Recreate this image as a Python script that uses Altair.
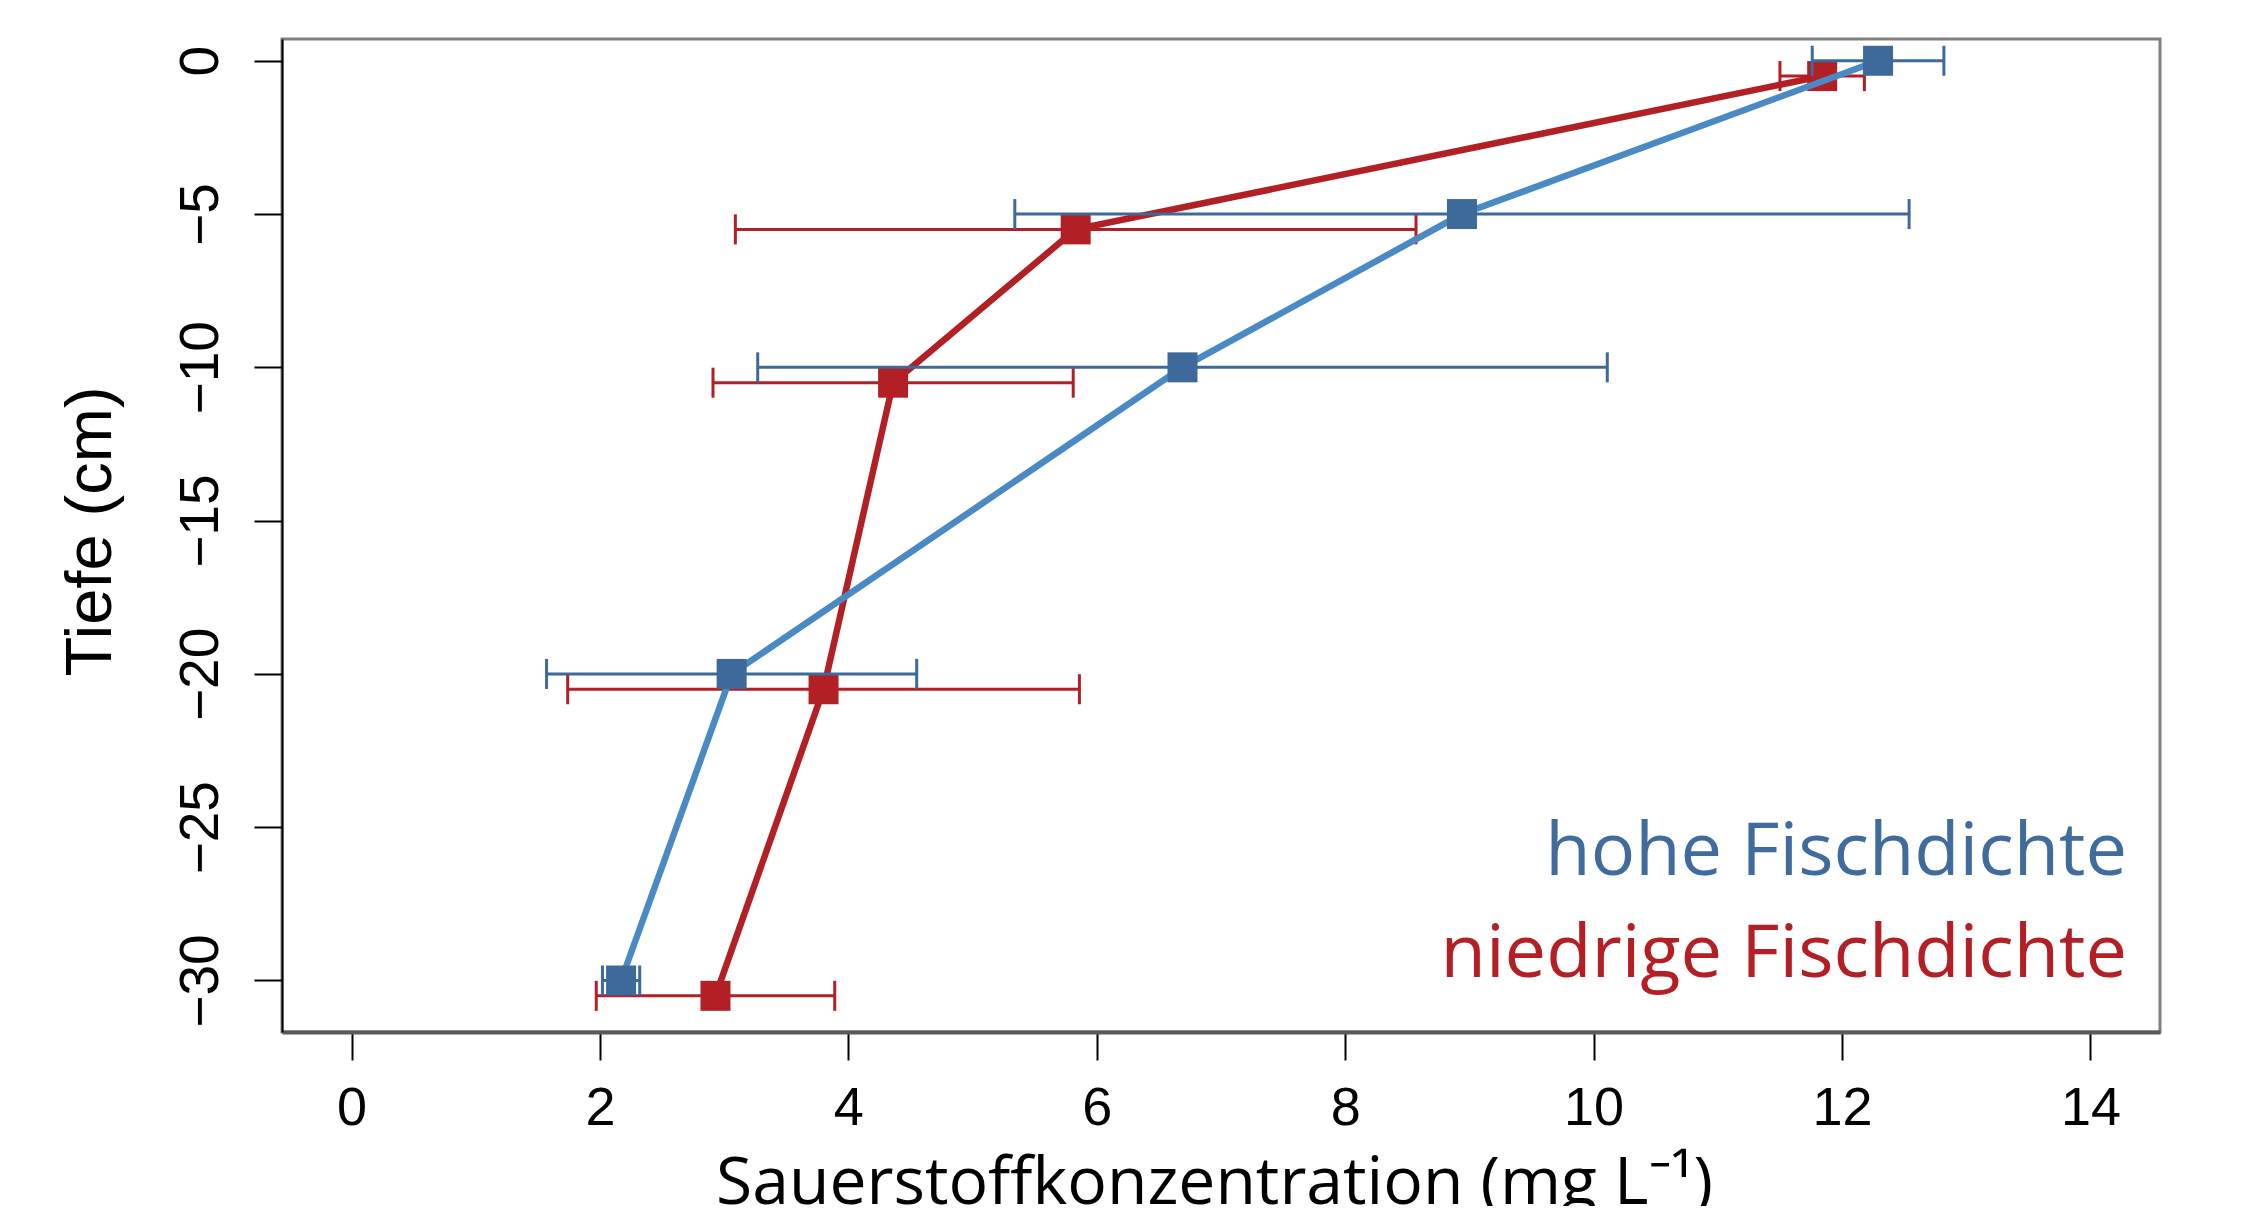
import altair as alt
import pandas as pd

groups = ["hohe Fischdichte", "niedrige Fischdichte"]

depth_hoch = [0, -5, -10, -20, -30]
oxy_hoch = [12.29, 8.94, 6.69, 3.06, 2.17]
sd_hoch = [0.53, 3.60, 3.42, 1.49, 0.15]

depth_niedrig = [-0.5, -5.5, -10.5, -20.5, -30.5]
oxy_niedrig = [11.84, 5.83, 4.36, 3.80, 2.93]
sd_niedrig = [0.34, 2.74, 1.45, 2.06, 0.96]

x_ticks = [0, 2, 4, 6, 8, 10, 12, 14]
y_ticks = [0, -5, -10, -15, -20, -25, -30]

rows = []
for g, ds, os_, ss in [(groups[0], depth_hoch, oxy_hoch, sd_hoch),
                       (groups[1], depth_niedrig, oxy_niedrig, sd_niedrig)]:
    for i, (d, o, s) in enumerate(zip(ds, os_, ss)):
        rows.append({"group": g, "depth": d, "oxy": o, "lo": o - s, "hi": o + s, "idx": i})
df = pd.DataFrame(rows)

W, H = 1878, 993
xscale = alt.Scale(domain=[-0.56, 14.56], nice=False, zero=False)
yscale = alt.Scale(domain=[-31.68, 0.71], nice=False, zero=False)

xaxis = alt.Axis(values=x_ticks, format="d", title="Sauerstoffkonzentration (mg L⁻¹)", grid=False,
                 domain=True, domainColor="#5a5a5a", domainWidth=4,
                 ticks=True, tickSize=28, tickWidth=2, tickColor="#000000",
                 labelFont="Liberation Sans", labelFontSize=54, labelColor="#000000",
                 labelBaseline="alphabetic", labelPadding=64, labelFlush=False, labelOverlap=False,
                 titleFont="Open Sans", titleFontSize=66, titleFontWeight="normal", titleColor="#000000",
                 titleX=932, titleY=171, titleAlign="center", titleBaseline="alphabetic")
yaxis = alt.Axis(values=y_ticks, format="d", title="Tiefe (cm)", grid=False,
                 domain=True, domainColor="#000000", domainWidth=2,
                 ticks=True, tickSize=28, tickWidth=2, tickColor="#000000",
                 labelFont="Liberation Sans", labelFontSize=55, labelColor="#000000",
                 labelAngle=270, labelAlign="center", labelBaseline="alphabetic",
                 labelPadding=37, labelFlush=False, labelOverlap=False,
                 titleFont="Liberation Sans", titleFontSize=65, titleFontWeight="normal", titleColor="#000000",
                 titleAngle=270, titleX=-172, titleY=492, titleAlign="center", titleBaseline="alphabetic")

base = alt.Chart(df)


def series(group, mark_color, line_color):
    b = base.transform_filter(alt.datum.group == group)
    bars = b.mark_rule(strokeWidth=3, color=mark_color).encode(
        x=alt.X("lo:Q", scale=xscale, axis=xaxis), x2="hi:Q",
        y=alt.Y("depth:Q", scale=yscale, axis=yaxis))
    cap_lo = b.mark_tick(orient="vertical", size=30, thickness=3, color=mark_color, opacity=1).encode(
        x=alt.X("lo:Q", scale=xscale), y=alt.Y("depth:Q", scale=yscale))
    cap_hi = b.mark_tick(orient="vertical", size=30, thickness=3, color=mark_color, opacity=1).encode(
        x=alt.X("hi:Q", scale=xscale), y=alt.Y("depth:Q", scale=yscale))
    line = b.mark_line(strokeWidth=6.5, color=line_color).encode(
        x=alt.X("oxy:Q", scale=xscale), y=alt.Y("depth:Q", scale=yscale), order="idx:Q")
    pts = b.mark_square(size=900, opacity=1, color=mark_color).encode(
        x=alt.X("oxy:Q", scale=xscale), y=alt.Y("depth:Q", scale=yscale))
    return [bars, cap_lo, cap_hi, line, pts]


blue_mark, blue_line = "#3D6A9B", "#4A8AC4"
red = "#B21F24"

lab_df = pd.DataFrame({"label": groups})
txt_hoch = alt.Chart(lab_df).transform_filter(alt.datum.label == groups[0]).mark_text(
    font="Open Sans", fontSize=74, align="right", baseline="alphabetic", color="#3F6B9E").encode(
    text="label:N", x=alt.value(1845), y=alt.value(836))
txt_nied = alt.Chart(lab_df).transform_filter(alt.datum.label == groups[1]).mark_text(
    font="Open Sans", fontSize=74, align="right", baseline="alphabetic", color="#B31F24").encode(
    text="label:N", x=alt.value(1845), y=alt.value(938))

layers = series(groups[1], red, red) + series(groups[0], blue_mark, blue_line) + [txt_hoch, txt_nied]

chart = alt.layer(*layers).properties(
    width=W, height=H,
    background="white",
    autosize=alt.AutoSizeParams(type="none"),
    padding={"left": 274, "top": 31, "right": 70, "bottom": 174},
).configure_view(stroke="#808080", strokeWidth=3)

chart.save("out.html", embed_options={"renderer": "svg", "actions": False})
